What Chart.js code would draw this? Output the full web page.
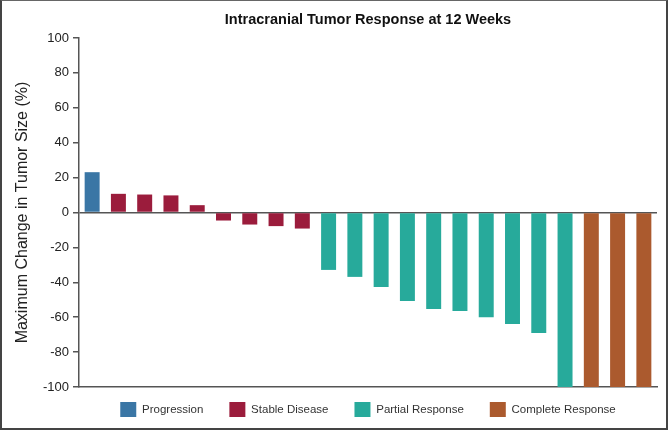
<!DOCTYPE html>
<html>
<head>
<meta charset="utf-8">
<script src="https://cdn.jsdelivr.net/npm/chart.js@4.4.1/dist/chart.umd.min.js"></script>
<style>
  html, body { margin: 0; padding: 0; background: #fff; }
  #wrap {
    width: 668px; height: 430px; box-sizing: border-box;
    border: 2px solid #444; border-top: 1px solid #666;
    position: relative;
  }
</style>
</head>
<body>
<div id="wrap"><canvas id="waterfall"></canvas></div>
<script>
// Patients, in the order they are plotted
const patients = ['1','2','3','4','5','6','7','8','9','10','11','12','13','14','15','16','17','18','19','20','21','22'];
// Best change in intracranial tumour size (%)
const changeValues = [23.1, 10.7, 10.3, 9.8, 4.2, -4.6, -6.9, -7.8, -9.2,
  -32.9, -36.9, -42.7, -50.7, -55.3, -56.4, -60.1, -63.9, -69.1, -100,
  -100, -100, -100];
const responseOf = ['Progression',
  'Stable Disease', 'Stable Disease', 'Stable Disease', 'Stable Disease',
  'Stable Disease', 'Stable Disease', 'Stable Disease', 'Stable Disease',
  'Partial Response', 'Partial Response', 'Partial Response', 'Partial Response', 'Partial Response',
  'Partial Response', 'Partial Response', 'Partial Response', 'Partial Response', 'Partial Response',
  'Complete Response', 'Complete Response', 'Complete Response'];
const responseGroups = ['Progression', 'Stable Disease', 'Partial Response', 'Complete Response'];
const yTicks = [-100, -80, -60, -40, -20, 0, 20, 40, 60, 80, 100];

const groupColors = ['#3a76a5', '#9b1c3c', '#27aa9b', '#ab5a2e'];
const axisColor = '#555';

Chart.defaults.font.family = '"Liberation Sans", Arial, Helvetica, sans-serif';

// one dataset per response group, null where the patient is in another group
const datasets = responseGroups.map((g, gi) => ({
  label: g,
  data: changeValues.map((v, i) => responseOf[i] === g ? v : null),
  backgroundColor: groupColors[gi],
  borderWidth: 0,
  barPercentage: 0.57,
  categoryPercentage: 1.0
}));

// legend items are spaced wider than the gap above them
const legendNudge = {
  id: 'legendNudge',
  beforeLayout(chart) {
    const lg = chart.legend;
    if (lg && !lg._wrapped) {
      const fit = lg.fit;
      lg.fit = function () { fit.call(this); this.height -= 11; };
      lg._wrapped = true;
    }
  },
  afterLayout(chart) {
    const lg = chart.legend;
    if (lg) { lg.top -= 11; lg.bottom -= 11; }
  }
};

new Chart(document.getElementById('waterfall'), {
  type: 'bar',
  data: { labels: patients, datasets: datasets },
  plugins: [legendNudge],
  options: {
    responsive: true,
    maintainAspectRatio: false,
    animation: false,
    layout: { padding: { left: 0, right: 9, top: 0, bottom: 0 } },
    plugins: {
      title: {
        display: true,
        text: 'Intracranial Tumor Response at 12 Weeks',
        color: '#111',
        font: { size: 14.5, weight: 'bold' },
        padding: { top: 10, bottom: 9.6 },
        fullSize: false
      },
      legend: {
        position: 'bottom',
        fullSize: false,
        labels: {
          boxWidth: 16,
          boxHeight: 16,
          padding: 26,
          color: '#333',
          font: { size: 11.5 }
        }
      },
      tooltip: { enabled: false }
    },
    scales: {
      x: {
        stacked: true,
        ticks: { display: false },
        grid: { display: false },
        border: { display: true, color: axisColor, width: 1.5 },
        afterFit: s => { s.height = 0; }
      },
      y: {
        min: -100,
        max: 100,
        afterBuildTicks: s => { s.ticks = yTicks.map(v => ({ value: v })); },
        ticks: { color: '#222', font: { size: 13 }, padding: 4 },
        grid: {
          color: c => (c.tick && c.tick.value === 0) ? axisColor : 'rgba(0,0,0,0)',
          lineWidth: 1.5,
          tickColor: axisColor,
          tickLength: 6
        },
        border: { display: true, color: axisColor, width: 1.5 },
        title: {
          display: true,
          text: 'Maximum Change in Tumor Size (%)',
          color: '#222',
          font: { size: 16 },
          padding: { top: 11, bottom: 0 }
        },
        afterFit: s => { s.width = 77; }
      }
    }
  }
});
</script>
</body>
</html>
